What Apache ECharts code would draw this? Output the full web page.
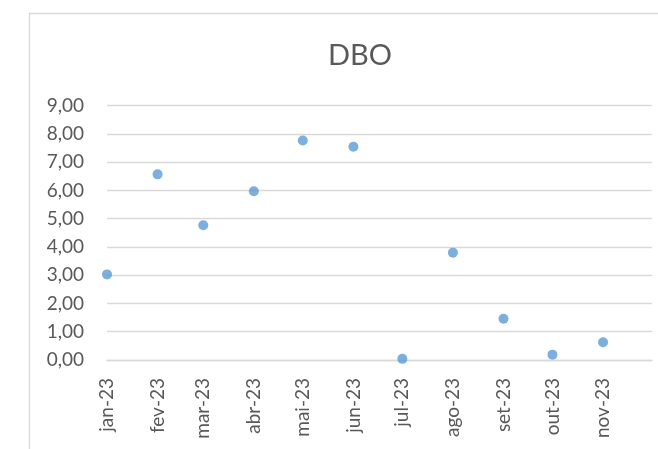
<!DOCTYPE html>
<html>
<head>
<meta charset="utf-8">
<script src="https://cdn.jsdelivr.net/npm/echarts@6/dist/echarts.min.js"></script>
<style>
html,body{margin:0;padding:0;background:#fff;}
#chart{width:658px;height:449px;}
</style>
</head>
<body>
<div id="chart"></div>
<script>
const dates = ['2023-01-01','2023-02-01','2023-03-01','2023-04-01','2023-05-01','2023-06-01','2023-07-01','2023-08-01','2023-09-01','2023-10-01','2023-11-01'];
const monthLabels = ['jan-23','fev-23','mar-23','abr-23','mai-23','jun-23','jul-23','ago-23','set-23','out-23','nov-23'];
const dboValues = [3.03, 6.57, 4.77, 5.97, 7.77, 7.55, 0.04, 3.80, 1.46, 0.19, 0.63];
const yTicks = [0,1,2,3,4,5,6,7,8,9];

const ts = dates.map(d => Date.parse(d));
const xMin = Date.parse('2023-01-01');
const xMax = Date.parse('2023-12-01');
const font = 'Lato, "Open Sans", sans-serif';

const chart = echarts.init(document.getElementById('chart'));
chart.setOption({
  animation: false,
  backgroundColor: '#fff',
  title: {
    text: 'DBO',
    left: 323,
    top: 36,
    textStyle: { fontFamily: font, fontSize: 29, fontWeight: 'normal', color: '#595959' }
  },
  graphic: [{
    type: 'rect',
    shape: { x: 29.5, y: 13.5, width: 700, height: 500 },
    style: { fill: 'none', stroke: '#d9d9d9', lineWidth: 1.3 },
    silent: true
  }],
  grid: { left: 107, right: 6, top: 105.7, bottom: 89, containLabel: false },
  xAxis: {
    type: 'value',
    min: xMin,
    max: xMax,
    axisLine: { show: true, lineStyle: { color: '#d9d9d9', width: 1.3 } },
    axisTick: { show: false },
    splitLine: { show: false },
    axisLabel: {
      customValues: ts,
      rotate: 90,
      margin: 18,
      fontFamily: font,
      fontSize: 19,
      color: '#595959',
      formatter: function (v) {
        const i = ts.indexOf(v);
        return i >= 0 ? monthLabels[i] : '';
      }
    }
  },
  yAxis: {
    type: 'value',
    min: yTicks[0],
    max: yTicks[yTicks.length - 1],
    interval: 1,
    axisLine: { show: false },
    axisTick: { show: false },
    splitLine: { lineStyle: { color: '#d9d9d9', width: 1.3 } },
    axisLabel: {
      margin: 23,
      fontFamily: font,
      fontSize: 19,
      color: '#595959',
      formatter: v => v.toFixed(2).replace('.', ',')
    }
  },
  series: [{
    type: 'scatter',
    symbol: 'circle',
    symbolSize: 10,
    itemStyle: { color: '#5b9bd5' },
    data: ts.map((t, i) => [t, dboValues[i]])
  }]
});
</script>
</body>
</html>
